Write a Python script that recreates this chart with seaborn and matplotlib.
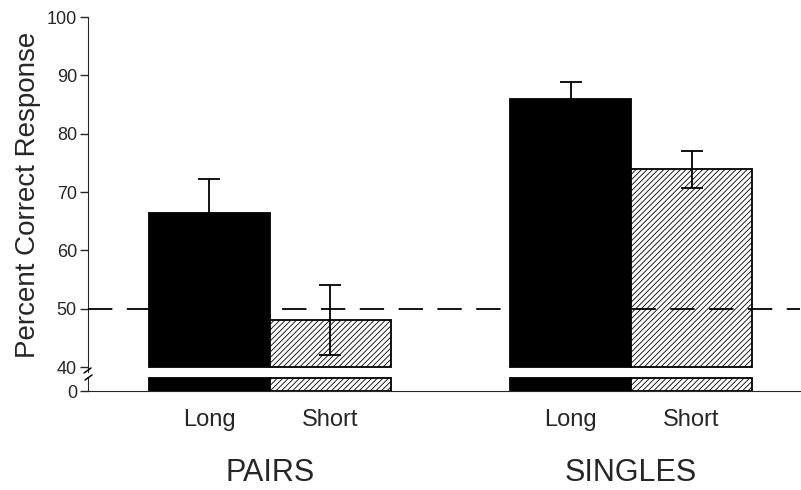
import seaborn as sns
import matplotlib.pyplot as plt
import pandas as pd
from matplotlib.lines import Line2D
from matplotlib.transforms import blended_transform_factory

# datos
grupos = ["PAIRS", "PAIRS", "SINGLES", "SINGLES"]
condiciones = ["Long", "Short", "Long", "Short"]
porcentaje = [66.4, 48.0, 85.9, 73.9]
error = [5.8, 6.0, 2.9, 3.2]

yticks_arriba = [40, 50, 60, 70, 80, 90, 100]
azar = 50
corte = 40

df = pd.DataFrame({"grupo": grupos, "condicion": condiciones, "porcentaje": porcentaje})

sns.set_style("white")
plt.rcParams['font.family'] = ['Liberation Sans', 'DejaVu Sans']
plt.rcParams['hatch.linewidth'] = 0.6

W, H = 801, 490
fig = plt.figure(figsize=(W / 100, H / 100), dpi=100)

def px(left, top, right, bottom):
    return [left / W, 1 - bottom / H, (right - left) / W, (bottom - top) / H]

ax_top = fig.add_axes(px(88, 17, 800, 372))
ax_bot = fig.add_axes(px(88, 377, 800, 391))

colores = ["black", "white"]
for ax in [ax_top, ax_bot]:
    sns.barplot(data=df, x="grupo", y="porcentaje", hue="condicion", palette=colores,
                width=0.67, edgecolor="black", linewidth=1.3, errorbar=None,
                legend=False, ax=ax)
    for barra in ax.containers[1]:
        barra.set_hatch("//////")
    ax.set_xlim(-0.504, 1.468)
    ax.set_xlabel("")
    ax.set_ylabel("")
    sns.despine(ax=ax)

# parte de arriba: barras empiezan en el corte
for barra in ax_top.patches:
    h = barra.get_height()
    barra.set_y(corte)
    barra.set_height(h - corte)
ax_top.set_ylim(39.15, 100)
ax_top.spines['bottom'].set_visible(False)
ax_top.set_yticks(yticks_arriba)
ax_top.set_xticks([])
ax_top.tick_params(axis='y', length=6, width=1, pad=2, labelsize=13, left=True)

# parte de abajo
for barra in ax_bot.patches:
    barra.set_height(2)
ax_bot.set_ylim(0, 2.2)
ax_bot.set_yticks([0])
ax_bot.tick_params(axis='y', length=6, width=1, pad=2, labelsize=13, left=True)

# barras de error
x_barras = {}
for nivel, cont in zip(["Long", "Short"], ax_top.containers[:2]):
    for g, barra in zip(["PAIRS", "SINGLES"], cont):
        x_barras[(g, nivel)] = barra.get_x() + barra.get_width() / 2
xs = [x_barras[(g, c)] for g, c in zip(grupos, condiciones)]
ax_top.errorbar(xs, porcentaje, yerr=error, fmt="none", ecolor="black",
                elinewidth=1.3, capsize=8, capthick=1.3, zorder=6)

ax_top.axhline(azar, color="black", lw=1.3, ls=(0, (13.5, 8)), zorder=5)

# etiquetas del eje x
ax_bot.set_xticks(xs)
ax_bot.set_xticklabels(condiciones, fontsize=17)
ax_bot.tick_params(axis='x', length=0, pad=13)

trans = blended_transform_factory(ax_bot.transData, fig.transFigure)
for i, g in enumerate(["PAIRS", "SINGLES"]):
    ax_bot.text(i, 1 - 488 / H, g, transform=trans, ha="center", va="bottom", fontsize=22)

fig.text(28 / W, 1 - 195 / H, "Percent Correct Response", rotation=90,
         ha="center", va="center", fontsize=20)

# marcas de corte del eje
for (x0, y0, x1, y1) in [(84, 373, 91, 368), (85, 380, 92, 375)]:
    fig.add_artist(Line2D([x0 / W, x1 / W], [1 - y0 / H, 1 - y1 / H], color="black", lw=1.1))

fig.savefig("out.png", dpi=100)
